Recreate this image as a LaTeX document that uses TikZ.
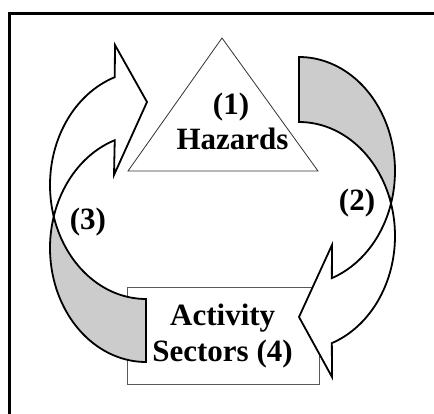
\documentclass[tikz,border=0pt]{standalone}
\usepackage{fontspec}
\setmainfont{Liberation Serif}
\begin{document}
\begin{tikzpicture}[x=1pt,y=-1pt,
  lbl/.style={font=\fontsize{31}{31}\selectfont\bfseries, inner sep=0pt, anchor=base},
  arrowline/.style={line width=1.8pt, draw=black, line join=miter},
  backface/.style={arrowline, fill=backgray},
  frontface/.style={arrowline, fill=white},
  boxline/.style={draw=black!65, line width=0.9pt}]
\definecolor{backgray}{RGB}{204,204,204}
\useasboundingbox (0,0) rectangle (434,414);
% frame
\draw[line width=2.5pt] (434,13.5) -- (9.5,13.5) -- (9.5,414);
% box for activity sectors
\node[boxline, fill=white, minimum width=192pt, minimum height=97pt, inner sep=0pt] (sectorsbox) at (223,335.5) {};
% triangle for hazards
\draw[draw=black!80, line width=0.8pt, fill=white] (222,38) -- (128,171) -- (318,171) -- cycle;
% left curved arrow (3)
\filldraw[backface] plot[domain=90:164, samples=40, variable=\t] ({146+96*cos(\t)},{185+114*sin(\t)})
  -- plot[domain=0:106, samples=50, variable=\t] ({146+96*cos(196-\t)},{248+114*sin(196-\t)}) -- cycle;
\filldraw[frontface] plot[domain=164:251, samples=45, variable=\t] ({146+96*cos(\t)},{185+114*sin(\t)})
  -- (115,45) -- (147,102) -- (114,175)
  -- plot[domain=0:55, samples=30, variable=\t] ({146+96*cos(251-\t)},{248+114*sin(251-\t)}) -- cycle;
% right curved arrow (2)
\filldraw[backface] plot[domain=-90:16.6, samples=50, variable=\t] ({299+96*cos(\t)},{171+114*sin(\t)})
  -- plot[domain=0:73.4, samples=40, variable=\t] ({299+96*cos(-16.6-\t)},{236+114*sin(-16.6-\t)}) -- cycle;
\filldraw[frontface] plot[domain=-16.6:70, samples=45, variable=\t] ({299+96*cos(\t)},{236+114*sin(\t)})
  -- (332,377) -- (299,317) -- (332,245)
  -- plot[domain=0:53.4, samples=30, variable=\t] ({299+96*cos(70-\t)},{171+114*sin(70-\t)}) -- cycle;
% labels
\node[lbl] (one) at (231,115) {(1)};
\node[lbl] (hazards) at (232.5,150) {Hazards};
\node[lbl] (two) at (357,211) {(2)};
\node[lbl] (three) at (88,230) {(3)};
\node[lbl] (activity) at (222.7,325) {Activity};
\node[lbl] (sectors) at (222.5,361) {Sectors (4)};
\end{tikzpicture}
\end{document}
